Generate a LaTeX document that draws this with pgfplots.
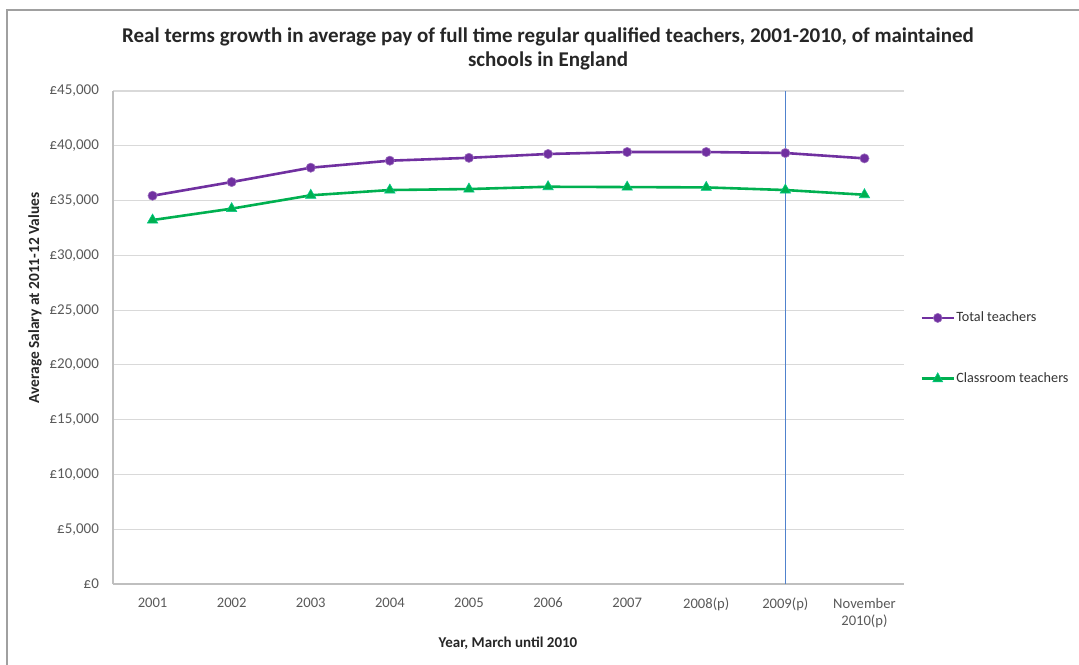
\documentclass[border=0pt]{standalone}
\usepackage{pgfplots}
\pgfplotsset{compat=1.18}
\usepackage{fontspec}
\setmainfont{Carlito}

\definecolor{totalpurple}{HTML}{7030A0}
\definecolor{classgreen}{HTML}{00B050}
\definecolor{vlineblue}{RGB}{80,130,205}
\definecolor{gridgray}{HTML}{D9D9D9}
\definecolor{axisgray}{HTML}{BFBFBF}
\definecolor{ticktext}{HTML}{595959}
\definecolor{framegray}{HTML}{A0A0A0}

\begin{document}
\begin{tikzpicture}[x=0.5pt,y=0.5pt]
\useasboundingbox (0,0) rectangle (1079,664);
% outer chart frame
\draw[framegray, line width=0.8pt] (7,-20) -- (7,654) -- (1100,654);

% title and axis titles
\node[align=center, font=\fontsize{10.5}{12}\selectfont\bfseries, text=black!85]
  at (548,615) {Real terms growth in average pay of full time regular qualified teachers, 2001-2010, of maintained\\schools in England};
\node[rotate=90, font=\fontsize{7.7}{9}\selectfont\bfseries, text=black!85]
  at (35,366) {Average Salary at 2011-12 Values};
\node[font=\fontsize{7.5}{9}\selectfont\bfseries, text=black!85]
  at (508,21) {Year, March until 2010};

\begin{axis}[
  at={(56.5pt,40pt)}, anchor=south west,
  scale only axis, width=395.5pt, height=246.5pt,
  xmin=-0.5, xmax=9.5, ymin=0, ymax=45000,
  xtick={0,...,9},
  xticklabels={2001,2002,2003,2004,2005,2006,2007,2008(p),2009(p),{November\\2010(p)}},
  ytick={0,5000,...,45000},
  yticklabels={{£0},{£5,000},{£10,000},{£15,000},{£20,000},{£25,000},{£30,000},{£35,000},{£40,000},{£45,000}},
  scaled y ticks=false,
  major tick length=0pt,
  axis x line*=bottom, axis y line*=left,
  axis line style={axisgray, line width=0.6pt},
  x axis line style={-}, y axis line style={-},
  ymajorgrids, grid style={gridgray, line width=0.6pt},
  xticklabel style={font=\fontsize{7.3}{8.8}\selectfont, text=ticktext, align=center, yshift=-3.5pt},
  yticklabel style={font=\fontsize{7.5}{8.4}\selectfont, text=ticktext, xshift=-3.5pt},
  legend style={at={(1.02,0.478)}, anchor=west, draw=none, fill=none,
    font=\fontsize{7.1}{8}\selectfont, text=black!80, row sep=20pt,
    inner sep=0pt, /tikz/every even column/.append style={column sep=0pt}},
  legend cell align=left,
  legend image post style={xscale=0.95},
  clip=false,
]
% 2009(p) reference line
\addplot[draw=vlineblue, line width=0.8pt, forget plot] coordinates {(8,0) (8,45000)};

\addplot[totalpurple, line width=1.3pt, mark=*, mark size=2.3pt,
  mark options={fill=totalpurple, draw=totalpurple!70!white, line width=0.3pt}]
  coordinates {
  (0,35440) (1,36690) (2,38000) (3,38640) (4,38900)
  (5,39250) (6,39430) (7,39430) (8,39340) (9,38850)};
\addlegendentry{\hspace{-1.5pt}Total teachers}

\addplot[classgreen, line width=1.3pt, mark=triangle*, mark size=3pt,
  mark options={fill=classgreen, draw=classgreen!70!cyan, line width=0.3pt}]
  coordinates {
  (0,33220) (1,34260) (2,35480) (3,35960) (4,36050)
  (5,36260) (6,36230) (7,36200) (8,35960) (9,35530)};
\addlegendentry{\hspace{-1.5pt}Classroom teachers}
\end{axis}
\end{tikzpicture}
\end{document}
